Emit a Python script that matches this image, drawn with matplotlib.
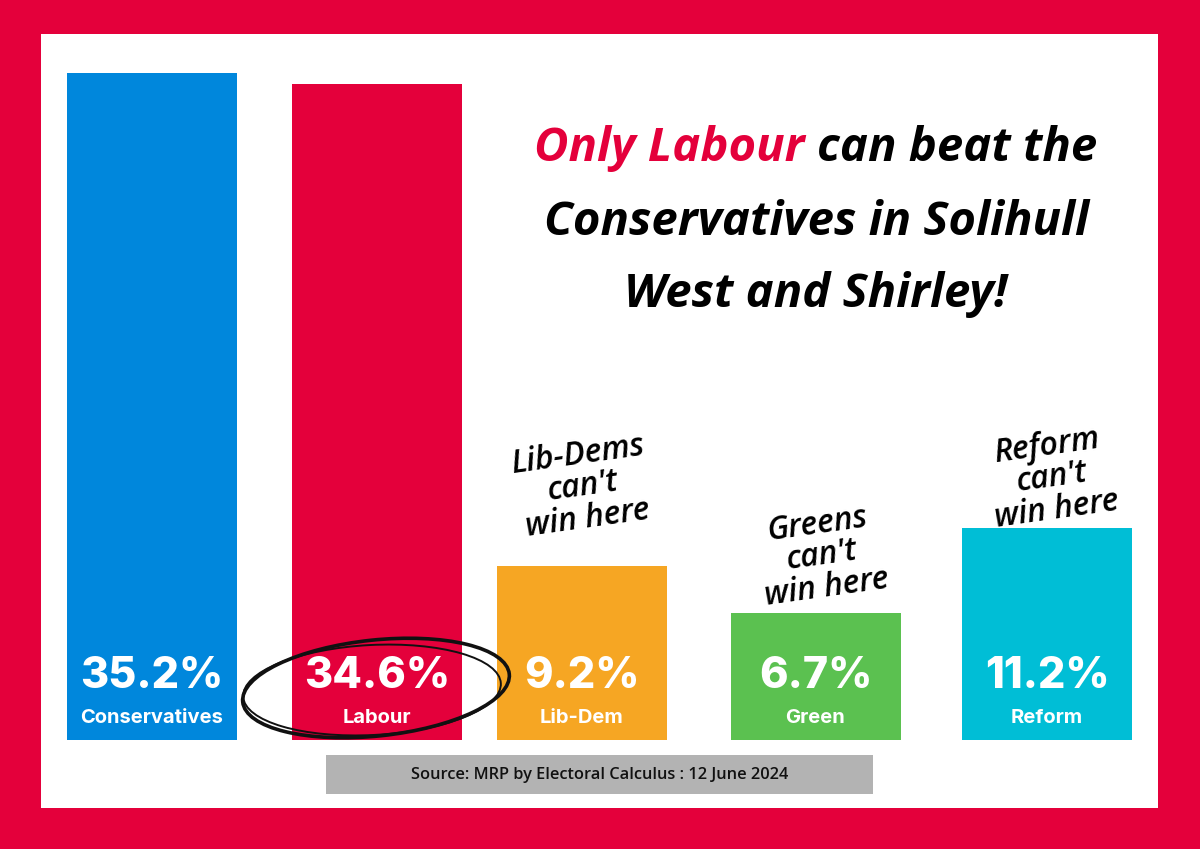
import matplotlib
matplotlib.use("Agg")
import matplotlib.pyplot as plt
from matplotlib.patches import Rectangle, Ellipse
from matplotlib import font_manager as fm

# ---- data ----
parties = ["Conservatives", "Labour", "Lib-Dem", "Green", "Reform"]
shares = [35.2, 34.6, 9.2, 6.7, 11.2]
share_labels = ["35.2%", "34.6%", "9.2%", "6.7%", "11.2%"]
notes = ["", "", "Lib-Dems\ncan't\nwin here", "Greens\ncan't\nwin here", "Reform\ncan't\nwin here"]
title_red = "Only Labour"
title_lines = ["can beat the", "Conservatives in Solihull", "West and Shirley!"]
source = "Source: MRP by Electoral Calculus : 12 June 2024"

# ---- style ----
RED = "#E4003B"
colors = ["#0087DC", "#E4003B", "#F6A623", "#5BC150", "#00BED6"]
centers = [152, 377, 581.5, 815.5, 1047]
note_pos = [None, None, (583, 487), (822, 556), (1052, 478)]

names = {f.name for f in fm.fontManager.ttflist}
hand = "Open Sans" if "Open Sans" in names else "DejaVu Sans"
boldf = "Inter" if "Inter" in names else "DejaVu Sans"

W, H = 1200, 849
fig = plt.figure(figsize=(12, 8.49), dpi=100)
fig.patch.set_facecolor(RED)

bg = fig.add_axes([0, 0, 1, 1], zorder=0)
bg.set_xlim(0, W); bg.set_ylim(H, 0); bg.axis("off")
bg.add_patch(Rectangle((41, 34), 1117, 774, facecolor="white", edgecolor="none"))

bottom_px, top_px = 740, 34
px_per_pct = 667 / 35.2
ax = fig.add_axes([0, (H - bottom_px) / H, 1, (bottom_px - top_px) / H], zorder=1)
ax.patch.set_alpha(0)
ax.set_xlim(0, W)
ax.set_ylim(0, (bottom_px - top_px) / px_per_pct)
ax.axis("off")
ax.bar(centers, shares, width=170, color=colors, edgecolor="none")

ov = fig.add_axes([0, 0, 1, 1], zorder=2)
ov.patch.set_alpha(0)
ov.set_xlim(0, W); ov.set_ylim(H, 0); ov.axis("off")

for c, lab, name in zip(centers, share_labels, parties):
    ov.text(c, 677, lab, color="white", fontsize=31, fontweight="heavy",
            family=boldf, ha="center", va="center")
    ov.text(c, 718, name, color="white", fontsize=14.5, fontweight="bold",
            family=boldf, ha="center", va="center")

for note, pos in zip(notes, note_pos):
    if note:
        ov.text(pos[0], pos[1], note, fontsize=23, family=hand, style="italic",
                fontweight="semibold", ha="center", va="center", rotation=8,
                linespacing=0.95, color="black", rotation_mode="anchor")

# circle around Labour
ov.add_patch(Ellipse((376, 688), 268, 96, angle=-6, fill=False, edgecolor="#111111", lw=2.6))
ov.add_patch(Ellipse((372, 690), 258, 90, angle=-3, fill=False, edgecolor="#111111", lw=1.4))

# title
fig.canvas.draw()
r = fig.canvas.get_renderer()
tkw = dict(fontsize=34, family=hand, style="italic", fontweight="bold", va="center")
t1 = ov.text(0, 148, title_red + " ", color=RED, ha="left", **tkw)
t2 = ov.text(0, 148, title_lines[0], color="black", ha="left", **tkw)
w1 = t1.get_window_extent(r).width
w2 = t2.get_window_extent(r).width
x0 = 816 - (w1 + w2) / 2
t1.set_x(x0)
t2.set_x(x0 + w1)
ov.text(816, 222, title_lines[1], color="black", ha="center", **tkw)
ov.text(816, 294, title_lines[2], color="black", ha="center", **tkw)

# source box
ov.add_patch(Rectangle((326, 755), 547, 39, facecolor="#B3B3B3", edgecolor="none"))
ov.text(600, 775, source, fontsize=11.8, fontweight="semibold", family=hand,
        ha="center", va="center", color="#111111")

fig.savefig("out.png", dpi=100, facecolor=RED)
